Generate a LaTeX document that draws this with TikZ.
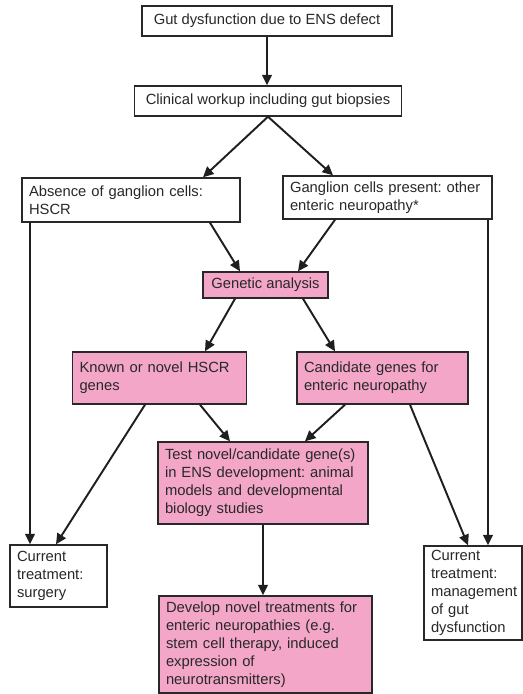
\documentclass[tikz,border=0pt]{standalone}
\usepackage{fontspec}
\setmainfont{Liberation Sans}
\usetikzlibrary{arrows.meta}
\frenchspacing

\definecolor{boxpink}{RGB}{243,166,200}
\definecolor{inkgray}{RGB}{40,40,40}

\tikzset{
	whitebox/.style={draw=inkgray, line width=0.8pt, fill=white, text=inkgray, font=\fontsize{8.4}{10.3}\selectfont, align=left, inner xsep=0.14cm, inner ysep=1pt},
	pinkbox/.style={whitebox, fill=boxpink},
	flow/.style={-{Triangle[length=6pt,width=5.6pt]}, line width=1.1pt, draw=black!88}
}

\begin{document}
\begin{tikzpicture}[x=0.02cm, y=-0.02cm]
			\useasboundingbox (0,0) rectangle (523,694);
			\node [whitebox, align=center, minimum width=5cm, minimum height=0.6cm] (ens) at (267,21) {Gut dysfunction due to ENS defect};
			\node [whitebox, align=center, minimum width=5.34cm, minimum height=0.6cm] (workup) at (268,101) {Clinical workup including gut biopsies};
			\node [whitebox, text width=4.08cm, minimum height=0.88cm] (absent) at (131,200) {Absence of ganglion cells:\\HSCR};
			\node [whitebox, text width=3.9cm, minimum height=0.86cm] (present) at (387.5,197.5) {Ganglion cells present: other\\enteric neuropathy*};
			\node [pinkbox, align=center, minimum width=2.5cm, minimum height=0.52cm] (genetic) at (265.5,285) {Genetic analysis};
			\node [pinkbox, text width=3.2cm, minimum height=1.04cm] (known) at (159.5,378) {Known or novel HSCR\\genes};
			\node [pinkbox, text width=3.14cm, minimum height=1.04cm] (cand) at (382.5,378) {Candidate genes for\\enteric neuropathy};
			\node [pinkbox, text width=3.92cm, minimum height=1.64cm] (test) at (263,483) {Test novel/candidate gene(s)\\in ENS development: animal\\models and developmental\\biology studies};
			\node [whitebox, text width=1.66cm, minimum height=1.24cm] (surgery) at (58.5,576) {Current\\treatment:\\surgery};
			\node [pinkbox, text width=3.98cm, minimum height=1.94cm] (develop) at (265.5,644.5) {Develop novel treatments for\\enteric neuropathies (e.g.\\stem cell therapy, induced\\expression of\\neurotransmitters)};
			\node [whitebox, text width=1.68cm, minimum height=1.88cm] (manage) at (473,593) {Current\\treatment:\\management\\of gut\\dysfunction};
			% arrows
			\draw [flow] (ens.south) -- (ens.south |- workup.north);
			\draw [flow] (workup.south) -- ([xshift=1.44cm]absent.north);
			\draw [flow] (workup.south) -- ([xshift=-1.09cm]present.north);
			\draw [flow] ([xshift=-2.02cm]absent.south) -- ([xshift=-0.57cm]surgery.north);
			\draw [flow] ([xshift=2.01cm]present.south) -- ([xshift=0.3cm]manage.north);
			\draw [flow] ([xshift=1.58cm]absent.south) -- ([xshift=-0.51cm]genetic.north);
			\draw [flow] ([xshift=-1.05cm]present.south) -- ([xshift=0.65cm]genetic.north);
			\draw [flow] ([xshift=-0.61cm]genetic.south) -- ([xshift=0.91cm]known.north);
			\draw [flow] ([xshift=0.75cm]genetic.south) -- ([xshift=-0.95cm]cand.north);
			\draw [flow] ([xshift=-0.29cm]known.south) -- ([xshift=-0.05cm]surgery.north);
			\draw [flow] ([xshift=0.81cm]known.south) -- ([xshift=-0.66cm]test.north);
			\draw [flow] ([xshift=-0.75cm]cand.south) -- ([xshift=0.84cm]test.north);
			\draw [flow] ([xshift=0.55cm]cand.south) -- ([xshift=-0.1cm]manage.north);
			\draw [flow] (test.south) -- (test.south |- develop.north);
		\end{tikzpicture}
\end{document}
